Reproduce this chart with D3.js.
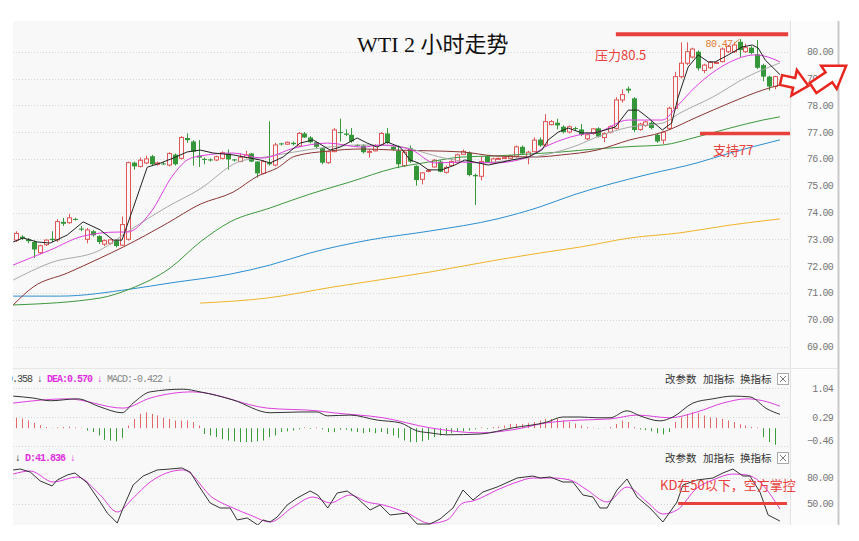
<!DOCTYPE html>
<html>
<head>
<meta charset="utf-8">
<style>
  body { margin: 0; background: #fff; }
  svg { display: block; }
  .tick-label { font-family: "Liberation Mono", monospace; font-size: 10px; fill: #777; letter-spacing: -0.8px; }
  .grid { stroke: #d6d6d6; stroke-dasharray: 1,2; }
  .head { font-family: "Liberation Mono", monospace; font-size: 10px; letter-spacing: -1px; }
  .tool { font-family: "Noto Sans CJK SC"; font-size: 10.5px; fill: #333; }
  .note { font-family: "Noto Sans CJK SC"; font-size: 13px; fill: #e8403c; }
</style>
</head>
<body>
<svg width="859" height="541"></svg>
<script src="https://d3js.org/d3.v7.min.js"></script>
<script>
// ---- data ----
const opens = [72.97,73.10,73.00,72.90,72.50,72.80,73.02,72.98,73.65,73.62,
 73.76,73.40,73.00,73.30,73.12,72.82,72.85,72.95,72.78,73.00,
 75.86,75.72,75.85,76.10,75.80,75.83,75.77,76.16,76.02,76.78,
 76.65,76.12,76.00,75.98,75.96,76.02,76.20,75.98,75.90,76.05,
 76.20,75.90,75.46,75.85,75.77,76.58,76.55,76.60,76.48,76.95,
 76.80,76.62,76.40,75.86,76.27,77.00,76.95,76.90,76.52,76.50,
 76.26,76.30,76.50,76.95,76.45,76.30,75.75,76.40,75.74,75.24,
 75.55,75.70,75.90,75.50,75.75,75.87,76.17,76.23,75.40,75.35,
 76.10,75.85,76.00,76.04,76.02,76.10,76.45,76.05,76.27,76.72,
 76.52,77.28,77.35,77.20,77.00,77.15,77.10,76.75,76.95,77.14,
 76.80,77.00,77.14,78.20,78.62,78.26,77.10,77.25,77.35,76.90,
 76.70,77.14,77.89,79.07,79.57,79.80,80.00,79.30,79.40,79.58,
 79.63,80.00,80.00,80.37,80.00,80.15,79.90,79.50,79.07,78.70];
const highs = [73.30,73.15,73.05,72.95,72.80,73.00,73.30,73.75,73.80,73.95,
 73.80,73.50,73.42,73.35,73.15,73.00,73.00,73.00,73.85,75.90,
 75.90,76.05,76.12,76.15,75.90,75.88,76.25,76.20,76.85,76.95,
 76.70,76.70,76.05,76.02,76.12,76.28,76.35,76.00,76.20,76.30,
 76.22,75.92,75.95,77.40,76.60,76.60,76.65,76.65,77.00,77.00,
 76.85,76.65,76.42,76.30,77.15,77.50,77.10,77.15,76.55,76.55,
 76.35,76.55,77.00,77.15,76.50,76.50,76.30,76.50,75.76,75.50,
 75.62,76.00,75.95,75.75,75.95,76.20,76.35,76.28,75.45,76.10,
 76.12,76.05,76.05,76.08,76.15,76.50,76.50,76.30,76.80,76.80,
 77.67,77.45,77.50,77.25,77.25,77.20,77.30,76.95,77.15,77.18,
 77.00,77.25,78.30,78.60,78.70,78.30,77.35,77.42,77.40,76.95,
 77.05,77.95,79.25,80.35,80.35,80.15,80.05,79.55,79.65,79.65,
 80.15,80.25,80.35,80.47,80.30,80.20,80.44,79.55,79.10,79.10];
const lows = [72.90,72.98,72.85,72.30,72.45,72.75,72.90,72.90,73.50,73.58,
 73.70,73.30,72.85,73.10,72.82,72.75,72.80,72.70,72.75,72.95,
 75.60,75.68,75.80,75.75,75.75,75.78,75.72,75.75,75.98,76.60,
 75.75,75.70,75.80,75.90,75.92,75.98,75.60,75.90,75.88,76.02,
 75.88,75.30,75.42,75.75,75.72,76.50,76.52,76.50,76.45,76.78,
 76.58,76.40,75.80,75.82,76.25,76.65,76.85,76.60,76.45,76.20,
 76.05,76.28,76.48,76.55,76.30,75.65,75.70,75.85,75.00,75.05,
 75.50,75.68,75.50,75.45,75.72,75.85,76.15,75.35,74.28,75.20,
 75.85,75.82,75.98,76.00,76.00,76.05,76.15,75.80,76.25,76.45,
 76.48,77.25,77.10,76.95,76.95,77.05,76.85,76.70,76.90,76.80,
 76.62,76.95,77.10,78.10,78.45,77.00,77.05,77.20,77.10,76.60,
 76.55,77.10,77.85,79.00,79.50,79.75,79.30,79.20,79.35,79.55,
 79.60,79.95,79.95,79.80,79.95,79.90,79.35,78.90,78.55,78.60];
const closes = [73.22,73.02,72.93,72.62,72.76,72.97,72.97,73.66,73.58,73.80,
 73.74,73.36,73.35,73.15,72.90,72.95,72.98,72.75,73.55,75.86,
 75.72,75.95,76.00,75.80,75.85,75.82,76.20,75.80,76.80,76.70,
 76.27,76.05,75.96,75.96,76.08,76.23,75.98,75.95,76.06,76.15,
 75.90,75.46,75.90,75.80,76.52,76.54,76.62,76.55,76.95,76.80,
 76.62,76.45,75.86,76.27,77.08,76.97,76.90,76.65,76.50,76.25,
 76.28,76.50,76.95,76.60,76.35,75.80,76.25,75.90,75.21,75.48,
 75.57,75.95,75.52,75.68,75.90,76.15,76.28,75.40,75.35,75.90,
 75.87,76.00,76.02,76.05,76.12,76.45,76.20,76.25,76.70,76.50,
 77.39,77.39,77.25,77.00,77.20,77.12,76.90,76.90,77.12,76.83,
 76.95,77.20,78.20,78.40,78.55,77.08,77.30,77.38,77.15,76.65,
 77.00,77.89,79.07,79.57,80.00,80.10,79.38,79.50,79.60,79.60,
 80.10,80.20,80.25,80.06,80.15,79.95,79.40,79.07,78.70,79.07];

// moving averages, sampled as [bar, price]
const ma5 = [[-0.7,72.90],[1.0,73.05],[3.4,72.90],[5.6,72.86],[8.5,73.16],[11.2,73.65],[14.1,73.35],[16.3,72.97],[17.8,72.97],[19.7,74.16],[22.1,75.69],[24.3,75.84],[26.5,76.03],[28.9,76.26],[31.1,76.33],[33.3,76.22],[36.7,76.15],[41.3,75.96],[43.0,75.85],[45.2,76.07],[48.1,76.59],[50.3,76.71],[53.2,76.33],[54.9,76.44],[57.8,76.78],[59.5,76.59],[61.2,76.44],[62.9,76.63],[65.1,76.44],[66.8,75.96],[68.2,75.85],[69.9,75.59],[72.2,75.59],[74.4,75.77],[76.1,75.96],[77.8,75.88],[80.1,75.77],[84.1,75.96],[86.9,76.07],[89.2,76.33],[90.3,76.71],[92.0,77.00],[93.7,77.15],[96.0,76.97],[98.3,76.97],[101.7,77.19],[103.9,77.82],[105.6,77.82],[107.3,77.53],[109.7,77.08],[111.3,77.34],[112.4,78.31],[114.1,79.43],[115.8,79.88],[117.5,79.62],[118.7,79.62],[120.9,79.88],[123.3,80.18],[125.0,80.25],[126.0,80.14],[127.2,79.69],[129.7,79.15]];
const ma10 = [[-0.7,72.04],[5.6,72.60],[11.2,73.12],[17.0,73.27],[18.7,73.27],[22.6,73.98],[26.5,75.40],[28.9,75.96],[31.1,76.11],[36.7,76.22],[41.6,76.03],[47.2,76.41],[52.8,76.59],[58.6,76.44],[62.0,76.52],[67.1,76.33],[71.0,75.85],[75.6,75.88],[81.2,75.85],[86.9,76.07],[89.7,76.44],[92.6,76.71],[95.4,76.89],[98.8,77.00],[103.9,77.45],[109.7,77.45],[112.4,78.01],[115.3,78.68],[118.2,79.21],[120.9,79.58],[125.5,79.88],[127.7,79.80],[129.7,79.62]];
const ma20 = [[-0.7,71.48],[5.6,72.12],[14.1,72.60],[19.2,73.35],[25.5,74.21],[31.1,74.88],[37.5,75.88],[42.1,76.07],[47.2,76.26],[52.8,76.44],[58.6,76.52],[64.2,76.48],[72.7,76.03],[78.4,75.85],[84.1,75.96],[89.7,76.15],[95.4,76.52],[98.6,76.82],[104.2,77.19],[109.8,77.34],[112.7,77.71],[118.3,78.31],[124.1,79.06],[129.7,79.58]];
const ma30 = [[-0.7,70.55],[2.7,71.22],[8.5,71.74],[14.1,72.30],[18.0,72.71],[25.5,73.60],[31.1,74.31],[36.7,74.76],[40.9,75.36],[44.2,75.66],[47.2,76.10],[52.8,76.29],[58.6,76.37],[64.2,76.33],[75.6,76.26],[81.2,76.11],[88.1,76.07],[92.6,76.15],[98.6,76.33],[104.2,76.71],[109.8,77.00],[115.6,77.56],[121.2,78.09],[126.8,78.57],[129.7,78.76]];
const ma60 = [[-0.7,70.55],[14.1,70.81],[19.2,71.15],[26.0,71.93],[31.1,72.90],[36.2,73.65],[43.0,74.17],[49.8,74.69],[56.6,75.14],[64.2,75.66],[69.9,75.88],[75.6,76.07],[81.2,76.11],[86.9,76.18],[92.6,76.26],[98.3,76.37],[104.2,76.46],[109.8,76.52],[115.6,76.82],[121.2,77.15],[126.8,77.45],[129.7,77.57]];
const ma120 = [[-0.7,70.88],[7.3,70.88],[19.2,71.14],[26.0,71.37],[36.2,71.70],[43.0,72.04],[49.8,72.49],[60.0,72.98],[70.2,73.31],[81.6,73.76],[88.9,74.21],[94.5,74.65],[100.3,75.03],[107.6,75.44],[115.6,75.85],[121.2,76.22],[129.7,76.71]];
const ma250 = [[31.1,70.62],[42.5,70.81],[53.7,71.22],[70.2,71.78],[81.6,72.23],[88.9,72.49],[95.7,72.71],[104.2,73.05],[112.7,73.24],[121.2,73.53],[129.7,73.76]];

// MACD
const difPts = [[-0.7,0.83],[2.7,0.78],[5.6,0.71],[10.2,0.76],[14.1,0.55],[17.8,0.40],[19.7,0.65],[22.6,0.94],[28.2,1.01],[31.1,0.94],[36.7,0.73],[43.0,0.40],[48.1,0.42],[51.0,0.42],[52.7,0.32],[56.6,0.34],[61.2,0.21],[65.1,0.14],[68.0,-0.07],[70.2,-0.12],[73.1,-0.17],[78.7,-0.15],[84.3,0.01],[90.1,0.16],[92.8,0.29],[95.7,0.29],[98.6,0.27],[100.8,0.27],[103.7,0.45],[105.9,0.32],[109.3,0.19],[111.5,0.29],[114.9,0.65],[118.3,0.76],[121.7,0.83],[124.6,0.81],[127.5,0.50],[129.7,0.36]];
const deaPts = [[-0.7,0.65],[8.5,0.76],[18.0,0.52],[22.6,0.78],[29.9,0.94],[42.5,0.52],[51.0,0.45],[53.7,0.40],[62.2,0.27],[70.2,0.01],[78.7,-0.12],[84.3,-0.04],[90.1,0.14],[95.7,0.21],[100.8,0.24],[105.4,0.34],[111.0,0.27],[115.6,0.42],[120.0,0.65],[124.1,0.76],[126.8,0.71],[129.7,0.57]];
const macdHist = [0.27,0.25,0.2,0.14,0.08,0.03,0.01,0.02,0.03,0.04,
 0.02,0.01,-0.06,-0.1,-0.19,-0.3,-0.32,-0.34,-0.25,0.07,
 0.24,0.37,0.41,0.37,0.33,0.27,0.24,0.2,0.2,0.2,
 0.16,0.07,-0.15,-0.19,-0.23,-0.28,-0.32,-0.34,-0.36,-0.36,
 -0.36,-0.34,-0.32,-0.23,-0.19,-0.1,-0.08,-0.06,-0.03,0.02,
 -0.02,0.02,-0.03,-0.1,-0.1,-0.04,-0.04,-0.08,-0.1,-0.13,
 -0.1,-0.13,-0.1,-0.15,-0.19,-0.25,-0.32,-0.36,-0.36,-0.34,
 -0.3,-0.23,-0.19,-0.15,-0.13,-0.1,-0.08,-0.06,-0.03,0.02,
 -0.02,0.03,0.04,0.07,0.11,0.11,0.11,0.13,0.16,0.2,
 0.24,0.24,0.24,0.2,0.16,0.12,0.07,0.03,0.01,-0.01,
 0.01,0.03,0.11,0.2,0.16,0.03,-0.03,-0.05,-0.08,-0.13,
 -0.16,-0.1,0.16,0.28,0.37,0.41,0.39,0.33,0.28,0.27,
 0.24,0.2,0.16,0.1,0.07,0.03,0.02,-0.23,-0.36,-0.43];

// KD
const kPts = [[-0.7,88.7],[0.5,89.8],[2.2,86.3],[3.9,76.0],[5.9,70.2],[6.8,77.1],[8.5,82.9],[9.8,85.2],[11.9,73.7],[14.1,51.7],[15.3,39.0],[17.0,27.5],[18.0,44.8],[19.7,71.3],[21.4,81.7],[23.8,88.7],[26.0,89.8],[28.0,91.0],[29.4,86.3],[31.1,67.9],[32.8,50.6],[34.5,44.8],[36.2,44.8],[37.4,31.0],[39.1,33.3],[40.9,25.2],[41.8,31.0],[43.0,28.7],[44.2,34.4],[45.9,48.3],[47.6,56.3],[49.8,64.4],[51.1,59.8],[52.8,44.8],[54.4,62.1],[56.1,64.4],[57.8,56.3],[60.0,42.5],[61.7,48.3],[63.4,36.7],[66.3,39.0],[68.0,26.3],[70.2,26.3],[71.9,32.1],[74.1,44.8],[75.8,65.6],[77.5,54.0],[79.2,63.3],[81.6,69.0],[85.0,79.4],[87.7,81.7],[88.9,79.4],[90.6,80.6],[92.8,74.8],[94.5,74.8],[96.2,59.8],[97.9,57.5],[99.1,44.8],[100.3,44.8],[102.0,65.6],[103.7,78.3],[105.4,57.5],[107.6,44.8],[109.8,28.7],[112.2,51.7],[113.2,71.3],[115.6,77.1],[118.3,79.4],[120.0,85.2],[121.7,89.8],[123.4,81.7],[124.6,81.7],[126.3,63.3],[127.7,36.7],[129.7,29.8]];
const dPts = [[-0.7,84.0],[2.2,87.5],[6.1,74.8],[10.2,80.6],[14.1,59.8],[17.0,40.2],[19.7,56.3],[22.6,74.8],[28.2,88.7],[33.3,56.3],[36.7,44.8],[39.6,36.7],[43.0,28.7],[46.9,46.0],[50.3,57.5],[53.2,50.6],[56.6,59.8],[59.5,51.7],[62.2,48.3],[66.3,39.0],[70.2,27.0],[73.1,31.0],[75.8,50.6],[77.5,52.9],[81.6,65.6],[85.0,74.8],[87.7,79.4],[91.1,79.4],[94.0,77.1],[96.9,65.6],[100.3,51.7],[103.7,69.0],[107.1,51.7],[109.8,37.9],[112.2,42.5],[115.6,67.9],[118.3,77.1],[121.7,84.0],[124.1,82.9],[126.3,74.8],[128.5,56.3],[129.7,43.7]];

// ticks
const priceTicks = [69,70,71,72,73,74,75,76,77,78,79,80];
const macdTicks = [1.04, 0.29, -0.46];
const kdTicks = [80, 50];

// ---- layout ----
const svg = d3.select("svg");
const L = 13, R = 790, AX = 838;
const mainTop = 21, mainBot = 368, macdBot = 446, kdBot = 525;
const red = "#e05555", green = "#35963a", bg = "#f8f8f8";

const x = d3.scaleLinear().domain([0, 129]).range([17.3, 775.8]);
const y = d3.scaleLinear().domain([69, 80]).range([346.5, 51.7]);
const yM = d3.scaleLinear().domain([-0.46, 1.04]).range([446, 388]);
const yK = d3.scaleLinear().domain([50, 80]).range([503.5, 477.5]);

svg.append("rect").attr("x", L).attr("y", mainTop).attr("width", AX - L).attr("height", kdBot - mainTop).attr("fill", bg);
svg.append("rect").attr("x", R).attr("y", mainTop).attr("width", AX - R).attr("height", kdBot - mainTop).attr("fill", "#fcfcfc");

const defs = svg.append("defs");
function clip(id, y0, y1, x0) {
  defs.append("clipPath").attr("id", id).append("rect")
    .attr("x", x0 === undefined ? L : x0).attr("y", y0).attr("width", R - (x0 === undefined ? L : x0)).attr("height", y1 - y0);
}
clip("cMain", mainTop, mainBot);
clip("cMacd", mainBot, macdBot);
clip("cKd", macdBot, kdBot);
clip("cHead", mainBot, kdBot, 12);

// panel borders
svg.append("line").attr("x1", R + 0.5).attr("x2", R + 0.5).attr("y1", mainTop).attr("y2", kdBot).attr("stroke", "#e2e2e2");
svg.append("line").attr("x1", AX + 0.5).attr("x2", AX + 0.5).attr("y1", mainTop).attr("y2", kdBot).attr("stroke", "#c9c9c9").attr("stroke-width", 2);
svg.append("line").attr("x1", L).attr("x2", AX).attr("y1", mainBot + 0.5).attr("y2", mainBot + 0.5).attr("stroke", "#e6e6e6");

// grids + labels
function grid(ticks, scale, fmt) {
  ticks.forEach(t => {
    svg.append("line").attr("class", "grid")
      .attr("x1", L).attr("x2", R).attr("y1", Math.round(scale(t)) + 0.5).attr("y2", Math.round(scale(t)) + 0.5);
  });
}
grid(priceTicks, y);
grid(macdTicks, yM);
grid(kdTicks, yK);

svg.selectAll("text.pl").data(priceTicks).join("text").attr("class", "tick-label")
  .attr("x", 833).attr("y", d => y(d) + 3.5).attr("text-anchor", "end").text(d3.format(".2f"));
svg.selectAll("text.ml").data(macdTicks).join("text").attr("class", "tick-label")
  .attr("x", 833).attr("y", (d, i) => yM(d) + (i === macdTicks.length - 1 ? -2.5 : 3.5)).attr("text-anchor", "end").text(d3.format(".2f"));
svg.selectAll("text.kl").data(kdTicks).join("text").attr("class", "tick-label")
  .attr("x", 833).attr("y", d => yK(d) + 3.5).attr("text-anchor", "end").text(d3.format(".2f"));

// ---- main panel ----
const gMain = svg.append("g").attr("clip-path", "url(#cMain)");
const candles = closes.map((c, i) => ({ i, o: opens[i], h: highs[i], l: lows[i], c }));
const cx = d => Math.round(x(d.i));

gMain.selectAll("line.wick").data(candles).join("line")
  .attr("x1", d => cx(d) - 0.5).attr("x2", d => cx(d) - 0.5)
  .attr("y1", d => y(d.h)).attr("y2", d => y(d.l))
  .attr("stroke", d => d.c >= d.o ? red : green);

gMain.selectAll("rect.body").data(candles).join("rect")
  .attr("x", d => d.c >= d.o ? cx(d) - 2.5 : cx(d) - 3)
  .attr("y", d => y(Math.max(d.o, d.c)))
  .attr("width", d => d.c >= d.o ? 4 : 5)
  .attr("height", d => Math.max(1, y(Math.min(d.o, d.c)) - y(Math.max(d.o, d.c))))
  .attr("fill", d => d.c >= d.o ? bg : green)
  .attr("stroke", d => d.c >= d.o ? red : "none");

const maLine = d3.line().x(d => x(d[0])).y(d => y(d[1]));
const maSmooth = d3.line().x(d => x(d[0])).y(d => y(d[1])).curve(d3.curveMonotoneX);
[[ma250, "#f0b429", maSmooth], [ma120, "#2d8fd0", maSmooth], [ma60, "#3e973e", maSmooth],
 [ma30, "#8c3535", maSmooth], [ma20, "#a9a9a9", maSmooth], [ma10, "#de3fde", maSmooth], [ma5, "#222", maLine]]
  .forEach(([pts, col, gen]) => {
    gMain.append("path").attr("d", gen(pts)).attr("fill", "none").attr("stroke", col).attr("stroke-width", 1);
  });

// high marker
const hiIdx = d3.maxIndex(highs);
svg.append("text").attr("x", x(hiIdx) - 35).attr("y", y(highs[hiIdx]) + 8)
  .attr("font-family", "Liberation Mono, monospace").attr("font-size", 10).attr("letter-spacing", -0.6)
  .attr("fill", "#e07b30").text(highs[hiIdx].toFixed(2));
svg.append("line").attr("x1", x(hiIdx) - 7).attr("y1", y(highs[hiIdx]) + 5)
  .attr("x2", x(hiIdx) - 1).attr("y2", y(highs[hiIdx])).attr("stroke", "#e07b30");

// title
svg.append("text").attr("x", 357).attr("y", 52)
  .attr("font-family", "Liberation Serif, Noto Sans CJK SC").attr("font-size", 22).attr("fill", "#111")
  .text("WTI 2 小时走势");

// annotations
const resist = 80.65, support = 76.95;
svg.append("line").attr("x1", x(101.8)).attr("x2", x(131.1)).attr("y1", y(resist)).attr("y2", y(resist))
  .attr("stroke", "#e8403c").attr("stroke-width", 4);
svg.append("line").attr("x1", x(116.1)).attr("x2", R).attr("y1", y(support)).attr("y2", y(support))
  .attr("stroke", "#e8403c").attr("stroke-width", 3.5);
svg.append("text").attr("class", "note").attr("x", 595).attr("y", 60).text("压力80.5");
svg.append("text").attr("class", "note").attr("x", 713).attr("y", 155).text("支持77");

function blockArrow(len, h1, h2) {
  const hs = len * 0.48;
  return [[0, -h1], [hs, -h1], [hs, -h2], [len, 0], [hs, h2], [hs, h1], [0, h1]];
}
svg.append("polygon").attr("points", blockArrow(28, 5, 13).join(" "))
  .attr("transform", "translate(781,80) rotate(12)")
  .attr("fill", "#fff").attr("stroke", "#e8261f").attr("stroke-width", 2.5).attr("stroke-linejoin", "miter");
svg.append("polygon").attr("points", blockArrow(40, 6, 14).join(" "))
  .attr("transform", "translate(813,88) rotate(-34)")
  .attr("fill", "#fff").attr("stroke", "#e8261f").attr("stroke-width", 2.5).attr("stroke-linejoin", "miter");

// ---- MACD panel ----
const gMacd = svg.append("g").attr("clip-path", "url(#cMacd)");
gMacd.selectAll("line.bar").data(macdHist).join("line")
  .attr("x1", (d, i) => Math.round(x(i)) - 0.5).attr("x2", (d, i) => Math.round(x(i)) - 0.5)
  .attr("y1", yM(0)).attr("y2", d => yM(d))
  .attr("stroke", d => d >= 0 ? "#e06a6a" : "#3a9b3a");
const mLine = d3.line().x(d => x(d[0])).y(d => yM(d[1])).curve(d3.curveMonotoneX);
gMacd.append("path").attr("d", mLine(deaPts)).attr("fill", "none").attr("stroke", "#de3fde");
gMacd.append("path").attr("d", mLine(difPts)).attr("fill", "none").attr("stroke", "#333");

const mh = svg.append("text").attr("class", "head").attr("x", -13).attr("y", 382).attr("clip-path", "url(#cHead)");
mh.append("tspan").attr("fill", "#444").text("DIF:0.358 ↓ ");
mh.append("tspan").attr("fill", "#e030e0").attr("font-weight", "bold").text("DEA:0.570 ↓ ");
mh.append("tspan").attr("fill", "#888").text("MACD:-0.422 ↓");

// ---- KD panel ----
svg.append("line").attr("class", "grid").attr("x1", L).attr("x2", R).attr("y1", macdBot + 0.5).attr("y2", macdBot + 0.5);
const gKd = svg.append("g").attr("clip-path", "url(#cKd)");
const kLine = d3.line().x(d => x(d[0])).y(d => yK(d[1]));
gKd.append("path").attr("d", kLine.curve(d3.curveMonotoneX)(dPts)).attr("fill", "none").attr("stroke", "#de3fde");
gKd.append("path").attr("d", d3.line().x(d => x(d[0])).y(d => yK(d[1]))(kPts)).attr("fill", "none").attr("stroke", "#333");

const kh = svg.append("text").attr("class", "head").attr("x", 15).attr("y", 461);
kh.append("tspan").attr("fill", "#222").text("↓ ");
kh.append("tspan").attr("fill", "#e030e0").attr("font-weight", "bold").text("D:41.836 ↓");

svg.append("line").attr("x1", x(112.4)).attr("x2", x(130.9)).attr("y1", yK(50)).attr("y2", yK(50))
  .attr("stroke", "#e8403c").attr("stroke-width", 3);
svg.append("text").attr("class", "note").attr("x", 660).attr("y", 490).text("KD在50以下，空方掌控");

// tool links
[379, 458].forEach(cy => {
  [["改参数", 665], ["加指标", 703], ["换指标", 740]].forEach(([t, tx]) => {
    svg.append("text").attr("class", "tool").attr("x", tx).attr("y", cy + 4).text(t);
  });
  svg.append("rect").attr("x", 777.5).attr("y", cy - 5.5).attr("width", 11).attr("height", 11)
    .attr("fill", "#fff").attr("stroke", "#aaa");
  svg.append("path").attr("d", `M780,${cy - 3}L786,${cy + 3}M786,${cy - 3}L780,${cy + 3}`).attr("stroke", "#777");
});
</script>
</body>
</html>
